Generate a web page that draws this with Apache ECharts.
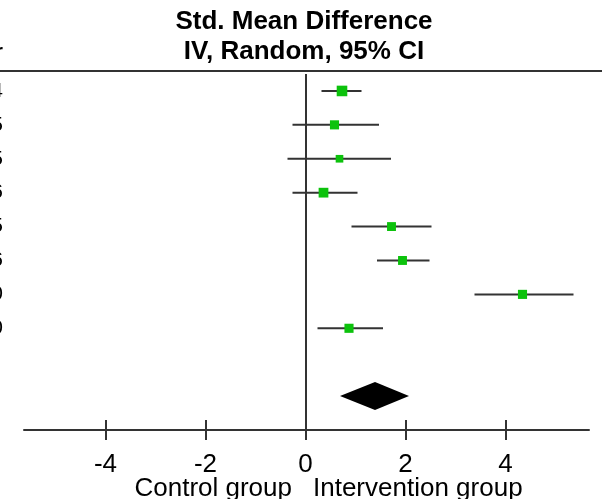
<!DOCTYPE html>
<html>
<head>
<meta charset="utf-8">
<script src="https://cdn.jsdelivr.net/npm/echarts@6/dist/echarts.min.js"></script>
<style>
html,body{margin:0;padding:0;background:#fff;}
#chart{width:602px;height:499px;}
</style>
</head>
<body>
<div id="chart"></div>
<script>
// Study rows (top to bottom)
const rowIds = [1, 2, 3, 4, 5, 6, 7, 8];
const years = ['2014', '2015', '2015', '2016', '2015', '2016', '2010', '2010'];
const smd = [0.73, 0.58, 0.68, 0.36, 1.72, 1.94, 4.34, 0.87];
const ciLow = [0.32, -0.26, -0.36, -0.26, 0.92, 1.43, 3.38, 0.24];
const ciHigh = [1.12, 1.47, 1.71, 1.04, 2.52, 2.48, 5.36, 1.55];
const weights = [14.5, 11, 7.5, 12.5, 10.5, 10.5, 11, 11];
// Pooled estimate: [lower, estimate, upper], row
const pooled = [0.69, 1.39, 2.07];
const pooledRow = 10;
const xTicks = [-4, -2, 0, 2, 4];
const titleLines = ['Std. Mean Difference', 'IV, Random, 95% CI'];
const axisNames = ['Control group', 'Intervention group'];

const chart = echarts.init(document.getElementById('chart'), null, {renderer: 'canvas'});
const FONT = '"Liberation Sans", Arial, sans-serif';
const ink = '#333333';

const barData = rowIds.map((r, i) => [ciLow[i], ciHigh[i], r]);
const pointData = rowIds.map((r, i) => [smd[i], r, weights[i]]);

const option = {
  animation: false,
  backgroundColor: '#ffffff',
  grid: {left: 24, right: 13, top: 74, bottom: 69, containLabel: false, outerBoundsMode: 'none'},
  xAxis: [{
    type: 'value', min: -5.63, max: 5.67,
    axisLine: {show: true, lineStyle: {color: ink, width: 2}},
    axisTick: {show: true, length: 10, customValues: xTicks, lineStyle: {color: ink, width: 2}},
    axisLabel: {show: true, customValues: xTicks, margin: 22, color: '#000', fontFamily: FONT, fontSize: 26},
    splitLine: {show: false}
  }, {
    type: 'value', min: -5.63, max: 5.67, position: 'bottom',
    axisLine: {show: false},
    axisTick: {show: true, inside: true, length: 10, customValues: xTicks, lineStyle: {color: ink, width: 2}},
    axisLabel: {show: false},
    splitLine: {show: false}
  }],
  yAxis: {
    type: 'value', min: 0.5, max: 11, inverse: true,
    axisLine: {show: false}, axisTick: {show: false}, splitLine: {show: false},
    axisLabel: {
      show: true, customValues: rowIds, margin: 21, align: 'right',
      color: '#000', fontFamily: FONT, fontSize: 21,
      formatter: v => years[rowIds.indexOf(v)] || ''
    }
  },
  graphic: [
    {type: 'line', shape: {x1: 0, y1: 71, x2: 602, y2: 71}, style: {stroke: ink, lineWidth: 2}, z: 10},
    {type: 'text', x: 304, y: 22, style: {text: titleLines[0], font: 'bold 26px ' + FONT, fill: '#000', textAlign: 'center', textVerticalAlign: 'middle'}},
    {type: 'text', x: 304, y: 52, style: {text: titleLines[1], font: 'bold 26px ' + FONT, fill: '#000', textAlign: 'center', textVerticalAlign: 'middle'}},
    {type: 'text', x: 3, y: 52, style: {text: 'Year', font: 'bold 21px ' + FONT, fill: '#000', textAlign: 'right', textVerticalAlign: 'middle'}},
    {type: 'text', x: 292, y: 489, style: {text: axisNames[0], font: '26px ' + FONT, fill: '#000', textAlign: 'right', textVerticalAlign: 'middle'}},
    {type: 'text', x: 313, y: 489, style: {text: axisNames[1], font: '26px ' + FONT, fill: '#000', textAlign: 'left', textVerticalAlign: 'middle'}}
  ],
  series: [
    {
      type: 'custom', name: 'CI', data: barData, z: 2,
      renderItem: (params, api) => {
        const p1 = api.coord([api.value(0), api.value(2)]);
        const p2 = api.coord([api.value(1), api.value(2)]);
        return {type: 'line', shape: {x1: p1[0], y1: p1[1], x2: p2[0], y2: p2[1]}, style: {stroke: ink, lineWidth: 2}};
      },
      markLine: {
        silent: true, symbol: 'none', label: {show: false},
        lineStyle: {color: ink, width: 2, type: 'solid'},
        data: [{xAxis: 0}]
      }
    },
    {
      type: 'scatter', name: 'SMD', data: pointData, z: 3,
      symbol: 'rect',
      symbolSize: v => 4.5 + v[2] * 0.42,
      itemStyle: {color: '#0cc20c', opacity: 1}
    },
    {
      type: 'custom', name: 'Pooled', data: [[pooled[0], pooled[1], pooled[2], pooledRow]], z: 3,
      renderItem: (params, api) => {
        const row = api.value(3);
        const l = api.coord([api.value(0), row]);
        const c = api.coord([api.value(1), row]);
        const r = api.coord([api.value(2), row]);
        const h = 14;
        return {type: 'polygon', shape: {points: [[l[0], l[1]], [c[0], c[1] - h], [r[0], r[1]], [c[0], c[1] + h]]}, style: {fill: '#000'}};
      }
    }
  ]
};
chart.setOption(option);
</script>
</body>
</html>
